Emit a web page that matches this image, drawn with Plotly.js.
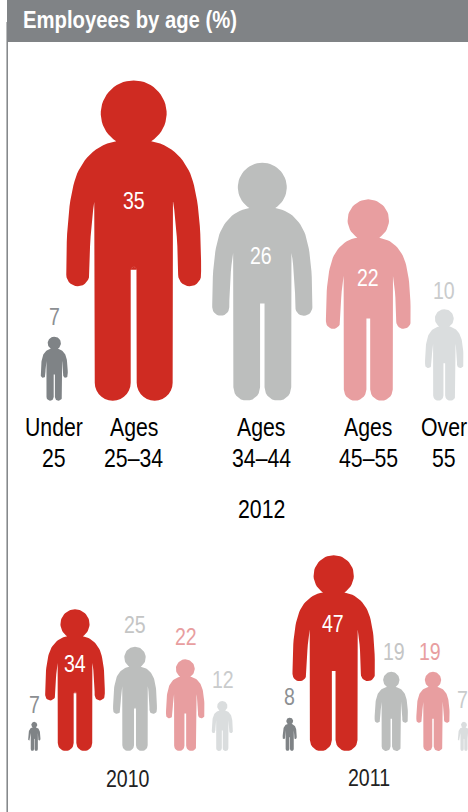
<!DOCTYPE html>
<html>
<head>
<meta charset="utf-8">
<script src="https://cdn.plot.ly/plotly-3.0.1.min.js"></script>
<style>
html,body{margin:0;padding:0;background:#fff;overflow:hidden}
#chart{width:468px;height:812px}
/* The reference is set in a narrow face; none is installed, so the text is condensed horizontally. */
.annotation-text{transform-box:fill-box;transform-origin:center;transform:scaleX(.85)}
.gtitle{transform-box:fill-box;transform-origin:left center;transform:scaleX(.845)}
</style>
</head>
<body>
<div id="chart"></div>
<script>
// ---- data ----
const titleText = "Employees by age (%)";
const ageGroups = ["Under<br>25", "Ages<br>25–34", "Ages<br>34–44", "Ages<br>45–55", "Over<br>55"];
const values2012 = [7, 35, 26, 22, 10];
const values2010 = [7, 34, 25, 22, 12];
const values2011 = [8, 47, 19, 19, 7];

// ---- styles and placement ----
const fills = ["#7F8386", "#CF2B22", "#BCBEBD", "#E89EA0", "#DADDDE"];
const outerText = ["#8C8F92", "#CF2B22", "#C4C5C5", "#E89EA0", "#C9CBCC"];
const FONT = '"Liberation Sans", Arial, sans-serif';
const W = 468, H = 812, SPLIT = 530;
const big = {scale: 9.16, base: 400.7, axis: "y", centres: [54.3, 133.7, 262.3, 368.3, 444.3],
             nudgeX: [0, 0, -1, 0, 0], nudgeY: [0, 2, -2.5, -2, -2]};
const left = {scale: 4.17, base: 751, axis: "y2", centres: [34.3, 75, 135, 185.3, 222.3],
              nudgeX: [0, 0, 0, 0.7, 0.7], nudgeY: [-3, -1, 2, 2, 1]};
const right = {scale: 4.17, base: 751, axis: "y2", centres: [289.7, 333.7, 391.3, 433, 464],
               nudgeX: [-0.7, -1, 2.7, -3, -1.7], nudgeY: [1, 5, 0, 0, 2]};

// ---- person glyph, unit height, x from centre, y from feet ----
const G = 321;
function arc(cx, cy, r, a0, a1, n) {
  const p = [];
  for (let i = 0; i <= n; i++) {
    const a = (a0 + (a1 - a0) * i / n) * Math.PI / 180;
    p.push([cx + r * Math.cos(a), cy + r * Math.sin(a)]);
  }
  return p;
}
function cubic(a, b, c, d, n) {
  const p = [];
  for (let i = 0; i <= n; i++) {
    const t = i / n, u = 1 - t;
    p.push([u*u*u*a[0] + 3*u*u*t*b[0] + 3*u*t*t*c[0] + t*t*t*d[0],
            u*u*u*a[1] + 3*u*u*t*b[1] + 3*u*t*t*c[1] + t*t*t*d[1]]);
  }
  return p;
}
const halfPerson = [].concat(
  arc(0, 287.7, 33, 90, -58, 24),
  cubic([17.5, 259.7], [40, 256], [52, 240], [58, 224], 14),
  cubic([58, 224], [64, 205], [67.5, 180], [67.5, 130], 14),
  arc(56, 126, 11.5, 0, -180, 14),
  cubic([44.5, 126], [44.5, 150], [42.5, 180], [39.5, 199], 8),
  [[39.3, 199]],
  arc(21, 18, 18, 0, -180, 14),
  arc(0, 131, 3, 0, 180, 8)
).map(p => [p[0] / G, p[1] / G]);
const person = halfPerson.concat(halfPerson.slice().reverse().map(p => [-p[0], p[1]]));

// ---- traces and labels ----
const traces = [], annotations = [];
function text(x, yref, y, t, size, color, shift) {
  annotations.push({x: x, y: y, xref: "x", yref: yref, text: t, showarrow: false,
    xanchor: "center", yanchor: "middle", yshift: shift || 0,
    font: {family: FONT, size: size, color: color}});
}
function group(values, cfg) {
  values.forEach((v, i) => {
    const h = v * cfg.scale;           // pixels per axis unit gives the same shape at every size
    const cx = cfg.centres[i];
    traces.push({
      type: "scatter", mode: "lines", fill: "toself", fillcolor: fills[i],
      line: {width: 0, color: fills[i]}, hoverinfo: "skip", showlegend: false,
      xaxis: "x", yaxis: cfg.axis,
      x: person.map(p => cx + p[0] * h),
      y: person.map(p => p[1] * v)
    });
    const lx = cx + cfg.nudgeX[i];
    if (h > 120) text(lx, cfg.axis, v * 0.615, String(v), 23, "#FFFFFF", cfg.nudgeY[i]);
    else text(lx, cfg.axis, v, String(v), 23, outerText[i], 19 + cfg.nudgeY[i]);
  });
}
group(values2012, big);
group(values2010, left);
group(values2011, right);

ageGroups.forEach((g, i) => {
  const lines = g.split("<br>");
  const lx = big.centres[i] + big.nudgeX[i];
  text(lx, "y", 0, lines[0], 25, "#000000", -(427 - big.base));
  text(lx, "y", 0, lines[1], 25, "#000000", -(458 - big.base));
});
text(261, "y", (big.base - 509) / big.scale, "2012", 25, "#000000");
text(127.7, "y2", (left.base - 780) / left.scale, "2010", 23, "#222222");
text(369, "y2", (left.base - 779) / left.scale, "2011", 23, "#222222");

const layout = {
  width: W, height: H, margin: {l: 0, r: 0, t: 0, b: 0},
  paper_bgcolor: "#FFFFFF", plot_bgcolor: "rgba(0,0,0,0)", showlegend: false,
  title: {text: "<b>" + titleText + "</b>", x: 23 / W, xref: "paper", xanchor: "left",
          y: 1 - 20 / H, yref: "paper", yanchor: "middle",
          font: {family: FONT, size: 24, color: "#FFFFFF"}},
  xaxis: {range: [0, W], visible: false, fixedrange: true},
  yaxis: {domain: [(H - SPLIT) / H, 1], visible: false, fixedrange: true,
          range: [(big.base - SPLIT) / big.scale, big.base / big.scale]},
  yaxis2: {domain: [0, (H - SPLIT) / H], visible: false, fixedrange: true,
           range: [(left.base - H) / left.scale, (left.base - SPLIT) / left.scale]},
  annotations: annotations,
  shapes: [
    {type: "rect", xref: "paper", yref: "paper", x0: 7 / W, x1: 1, y0: 1 - 42 / H, y1: 1,
     fillcolor: "#808386", line: {width: 0}, layer: "below"},
    {type: "line", xref: "paper", yref: "paper", x0: 7.2 / W, x1: 7.2 / W, y0: 0, y1: 1 - 22 / H,
     line: {color: "#808386", width: 1.5}, layer: "below"}
  ]
};
Plotly.newPlot("chart", traces, layout, {displayModeBar: false, staticPlot: true});
</script>
</body>
</html>
